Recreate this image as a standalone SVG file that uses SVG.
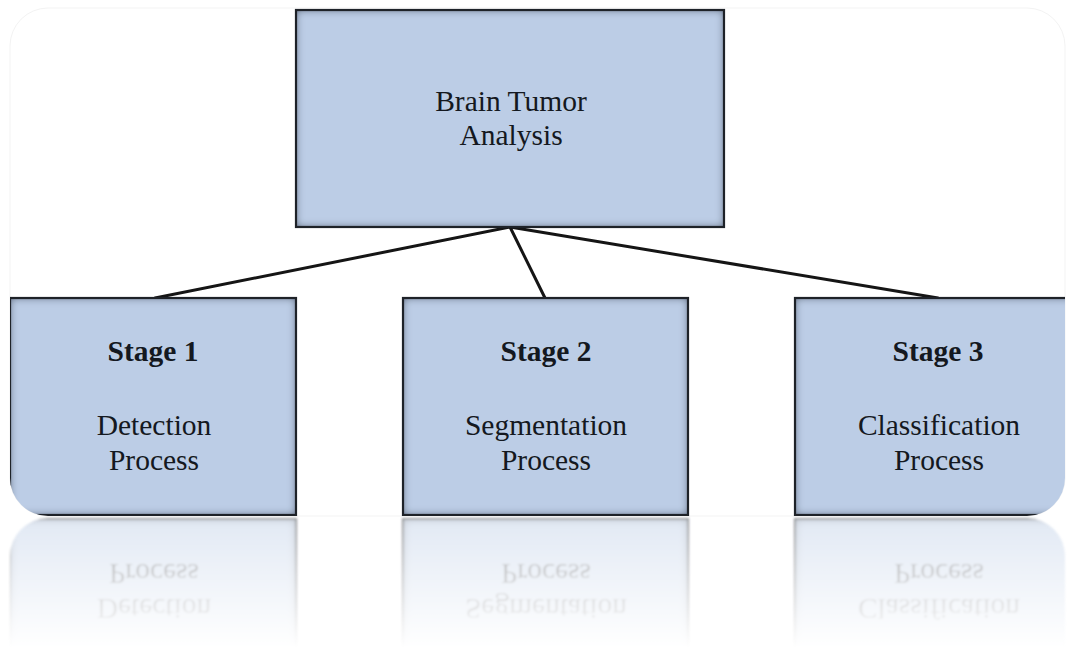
<svg xmlns="http://www.w3.org/2000/svg" xmlns:xlink="http://www.w3.org/1999/xlink" width="1075" height="652" viewBox="0 0 1075 652">
  <defs>
    <style>
      .box { fill: #bccde6; }
      .edge { fill: none; stroke: #1e2228; stroke-width: 2.2; }
      .conn { stroke: #151515; stroke-width: 3; fill: none; stroke-linecap: round; }
      .t { font-family: "Liberation Serif", "Times New Roman", serif; font-size: 29.5px; fill: #141820; text-anchor: middle; }
      .b { font-weight: bold; }
    </style>
    <clipPath id="frameClip">
      <rect x="10" y="8" width="1055" height="508" rx="38" ry="38"/>
    </clipPath>
    <filter id="inner" x="-5%" y="-5%" width="110%" height="110%">
      <feComponentTransfer in="SourceAlpha" result="inv">
        <feFuncA type="table" tableValues="1 0"/>
      </feComponentTransfer>
      <feGaussianBlur in="inv" stdDeviation="4" result="blur"/>
      <feComposite in="blur" in2="SourceAlpha" operator="in" result="shadowMask"/>
      <feFlood flood-color="#26324a" flood-opacity="1"/>
      <feComposite in2="shadowMask" operator="in" result="shadow"/>
      <feMerge>
        <feMergeNode in="SourceGraphic"/>
        <feMergeNode in="shadow"/>
      </feMerge>
    </filter>
    <filter id="soft">
      <feGaussianBlur stdDeviation="1.2"/>
    </filter>
    <linearGradient id="fade" gradientUnits="userSpaceOnUse" x1="0" y1="517" x2="0" y2="648">
      <stop offset="0" stop-color="#fff" stop-opacity="0.45"/>
      <stop offset="0.5" stop-color="#fff" stop-opacity="0.22"/>
      <stop offset="1" stop-color="#fff" stop-opacity="0"/>
    </linearGradient>
    <mask id="reflMask" maskUnits="userSpaceOnUse" x="0" y="516" width="1075" height="136">
      <rect x="0" y="516" width="1075" height="136" fill="url(#fade)"/>
    </mask>
  </defs>

  <rect x="0" y="0" width="1075" height="652" fill="#ffffff"/>
  <rect x="10" y="8" width="1055" height="508" rx="38" ry="38" fill="none" stroke="#f3f3f3" stroke-width="1"/>

  <g id="main" clip-path="url(#frameClip)">
    <g id="connectors">
      <line class="conn" x1="510" y1="227" x2="155" y2="298"/>
      <line class="conn" x1="510" y1="227" x2="545" y2="298"/>
      <line class="conn" x1="510" y1="227" x2="938" y2="298"/>
    </g>

    <g id="node-root">
      <rect class="box" x="296" y="10" width="428" height="217" filter="url(#inner)"/>
      <rect class="edge" x="296" y="10" width="428" height="217"/>
      <text class="t" x="511" y="111">Brain Tumor</text>
      <text class="t" x="511" y="145">Analysis</text>
    </g>

    <g id="node-stage1">
      <rect class="box" x="10" y="298" width="286" height="217" filter="url(#inner)"/>
      <rect class="edge" x="10" y="298" width="286" height="217"/>
      <text class="t b" x="153" y="361">Stage 1</text>
      <text class="t" x="154" y="435">Detection</text>
      <text class="t" x="154" y="470">Process</text>
    </g>

    <g id="node-stage2">
      <rect class="box" x="403" y="298" width="285" height="217" filter="url(#inner)"/>
      <rect class="edge" x="403" y="298" width="285" height="217"/>
      <text class="t b" x="546" y="361">Stage 2</text>
      <text class="t" x="546" y="435">Segmentation</text>
      <text class="t" x="546" y="470">Process</text>
    </g>

    <g id="node-stage3">
      <rect class="box" x="795" y="298" width="285" height="217" filter="url(#inner)"/>
      <rect class="edge" x="795" y="298" width="285" height="217"/>
      <text class="t b" x="938" y="361">Stage 3</text>
      <text class="t" x="939" y="435">Classification</text>
      <text class="t" x="939" y="470">Process</text>
    </g>
  </g>

  <g id="reflection" mask="url(#reflMask)">
    <use xlink:href="#main" href="#main" transform="translate(0,1034) scale(1,-1)" filter="url(#soft)"/>
  </g>
</svg>
